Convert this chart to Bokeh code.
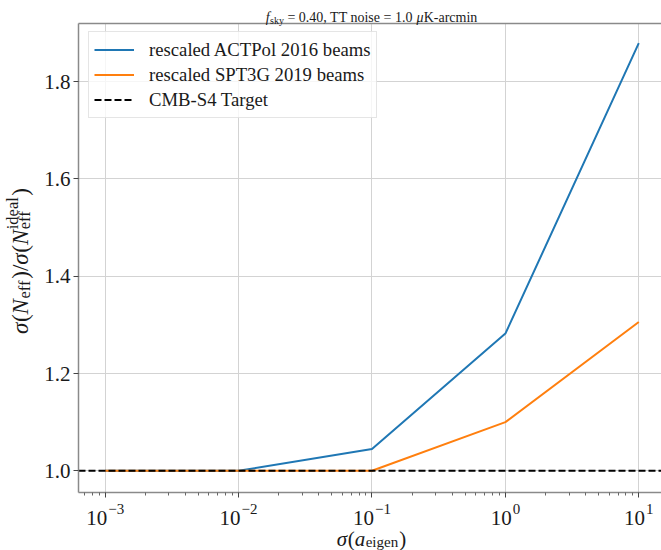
import math
from bokeh.plotting import figure
from bokeh.models import (Range1d, FixedTicker, Label, Legend, LegendItem, LogAxis,
                          CustomJSTickFormatter)
from bokeh.embed import file_html
from bokeh.resources import INLINE

# ---------------- data ----------------
sigma_a = [1e-3, 1e-2, 1e-1, 1e0, 1e1]
actpol_2016 = [1.0, 1.0, 1.045, 1.282, 1.879]
spt3g_2019 = [1.0, 1.0, 1.0, 1.100, 1.306]
cmb_s4_target = 1.0
series_names = ["rescaled ACTPol 2016 beams", "rescaled SPT3G 2019 beams", "CMB-S4 Target"]

x_ticks = [1e-3, 1e-2, 1e-1, 1e0, 1e1]
x_tick_base = "10"
x_tick_exponents = ["\u22123", "\u22122", "\u22121", "0", "1"]
y_ticks = [1.0, 1.2, 1.4, 1.6, 1.8]
y_tick_labels = ["1.0", "1.2", "1.4", "1.6", "1.8"]

# ---------------- layout (canvas pixels, origin top-left) ----------------
W, H = 661, 550
AX_L, AX_T, AX_B = 78, 23, 492          # axes box edges (right edge lies beyond canvas)
PX_PER_DECADE = 133.4
PX_PER_UNIT = 486.5
x_lo_exp = -3.2                           # log10 of x at the left spine
y_lo = 0.9554                             # y at the bottom spine
x_lo = 10 ** x_lo_exp
x_hi = 10 ** (x_lo_exp + (W - AX_L) / PX_PER_DECADE)
y_hi = y_lo + (AX_B - AX_T) / PX_PER_UNIT

FONT = "Liberation Serif"
TXT = "#1a1a1a"
SPINE = "#8a8a8a"
GRID = "#d3d3d3"

p = figure(width=W, height=H, x_axis_type="log", title=None,
           x_range=Range1d(10 ** (x_lo_exp - AX_L / PX_PER_DECADE), x_hi),
           y_range=Range1d(y_lo - (H - AX_B) / PX_PER_UNIT, y_lo + AX_B / PX_PER_UNIT),
           output_backend="svg", toolbar_location=None,
           min_border_left=0, min_border_right=0, min_border_top=0, min_border_bottom=0)
p.outline_line_color = None
p.background_fill_color = "white"
p.border_fill_color = "white"

minor = [k * 10.0 ** e for e in range(-4, 2) for k in range(2, 10)
         if x_lo <= k * 10.0 ** e <= x_hi]
xax = p.xaxis[0]
yax = p.yaxis[0]
xax.ticker = FixedTicker(ticks=x_ticks, minor_ticks=minor)
xax.formatter = CustomJSTickFormatter(code="return ''")
xax.fixed_location = y_lo
xax.bounds = (x_lo, x_hi)
yax.ticker = FixedTicker(ticks=y_ticks, minor_ticks=[])
yax.major_label_overrides = dict(zip(y_ticks, y_tick_labels))
yax.fixed_location = x_lo
yax.bounds = (y_lo, y_hi)

for ax in (xax, yax):
    ax.axis_line_color = SPINE
    ax.axis_line_width = 1.5
    ax.major_tick_in = 0
    ax.major_tick_out = 5
    ax.minor_tick_in = 0
    ax.minor_tick_out = 3
    ax.major_tick_line_color = "#444444"
    ax.minor_tick_line_color = "#666666"
    ax.major_tick_line_width = 1
yax.major_label_text_font = FONT
yax.major_label_text_font_size = "21px"
yax.major_label_text_color = TXT
yax.major_label_standoff = 3

# top spine as an axis with no ticks
top = LogAxis(fixed_location=y_hi, bounds=(x_lo, x_hi), ticker=FixedTicker(ticks=[]),
              formatter=CustomJSTickFormatter(code="return ''"),
              axis_line_color=SPINE, axis_line_width=1.5,
              major_tick_out=0, major_tick_in=0, minor_tick_out=0, minor_tick_in=0)
p.add_layout(top, "above")

p.xgrid.grid_line_color = GRID
p.ygrid.grid_line_color = GRID
p.xgrid.grid_line_width = 1
p.ygrid.grid_line_width = 1
p.xgrid.cross_bounds = (y_lo, y_hi)
p.ygrid.cross_bounds = (x_lo, x_hi)

# ---------------- data lines ----------------
r1 = p.line(sigma_a, actpol_2016, line_color="#1f77b4", line_width=2)
r2 = p.line(sigma_a, spt3g_2019, line_color="#ff7f0e", line_width=2)
r3 = p.line([x_lo, x_hi], [cmb_s4_target, cmb_s4_target], line_color="black",
            line_width=2, line_dash="7 3")

legend = Legend(items=[LegendItem(label=series_names[0], renderers=[r1]),
                       LegendItem(label=series_names[1], renderers=[r2]),
                       LegendItem(label=series_names[2], renderers=[r3])],
                location=(88, H - 118), margin=0, padding=5, spacing=0,
                glyph_width=40, glyph_height=25, label_height=25, label_standoff=15,
                label_text_font=FONT, label_text_font_size="18.7px", label_text_color=TXT,
                border_line_color="#cccccc", border_line_width=1,
                background_fill_color="white", background_fill_alpha=0.8)
p.add_layout(legend)

# ---------------- composed math-like texts ----------------
ROMAN = {' ': .25, '(': .333, ')': .333, ',': .25, '-': .333, '.': .25, '/': .278,
         '=': .564, '\u2212': .564, 'A': .722, 'B': .667, 'C': .667, 'K': .722,
         'M': .889, 'N': .722, 'P': .556, 'S': .556, 'T': .611, 'a': .444, 'b': .5,
         'c': .444, 'd': .5, 'e': .444, 'f': .333, 'g': .5, 'i': .278, 'k': .5,
         'l': .278, 'm': .778, 'n': .5, 'o': .5, 'r': .333, 's': .389, 't': .278, 'y': .5}
ITALIC = {'f': .278, 'N': .667, 'a': .5, '\u03c3': .52, '\u03bc': .52}


def tw(s, size, italic=False):
    tab = ITALIC if italic else ROMAN
    return sum(tab.get(c, ROMAN.get(c, .5)) for c in s) * size


def adv_of(piece):
    t, size, it, shift, adv, gap = piece
    return (tw(t, size, it) + gap) if adv else 0.0


def run_width(pieces):
    return sum(adv_of(pc) for pc in pieces)


def place(pieces, x0, y0, vertical=False):
    """x0, y0 in canvas pixels measured from the top-left."""
    pos = 0.0
    for pc in pieces:
        t, size, it, shift, adv, gap = pc
        lead = tw(t[:len(t) - len(t.lstrip(' '))], size, it)
        s = pos + lead
        if vertical:
            x, y = x0 + shift, y0 - s
        else:
            x, y = x0 + s, y0 + shift
        p.add_layout(Label(x=x, y=H - y, x_units="screen", y_units="screen", text=t.strip(' '),
                           angle=math.pi / 2 if vertical else 0,
                           text_font=FONT, text_font_size=f"{size}px",
                           text_font_style="italic" if it else "normal",
                           text_color=TXT, text_align="left", text_baseline="alphabetic"))
        pos += adv_of(pc)


RM, IT = False, True
# (text, size, italic, downward shift, advances, extra gap)
title_pieces = [("f", 14, IT, 0, True, 0.5), ("sky", 10, RM, 3, True, 0),
                (" = 0.40, TT noise = 1.0 ", 14, RM, 0, True, 0), ("\u03bc", 14, IT, 0, True, 0),
                ("K-arcmin", 14, RM, 0, True, 0)]
xlabel_pieces = [("\u03c3", 21, IT, 0, True, 0), ("(", 21, RM, 0, True, 0),
                 ("a", 21, IT, 0, True, 0.5), ("eigen", 15, RM, 3.5, True, 1),
                 (")", 21, RM, 0, True, 0)]
ylabel_pieces = [("\u03c3", 23, IT, 0, True, 0), ("(", 23, RM, 0, True, 0),
                 ("N", 23, IT, 0, True, 0.5), ("eff", 16.5, RM, 4, True, 1.5),
                 (")", 23, RM, 0, True, 0), ("/", 23, RM, 0, True, 0),
                 ("\u03c3", 23, IT, 0, True, 0), ("(", 23, RM, 0, True, 0),
                 ("N", 23, IT, 0, True, 0.5), ("eff", 16.5, RM, 4, False, 0),
                 ("ideal", 16.5, RM, -8, True, 1.5), (")", 23, RM, 0, True, 0)]

cx = 371
cy = (AX_T + AX_B) / 2
place(title_pieces, cx - run_width(title_pieces) / 2, 16.7)
place(xlabel_pieces, cx - run_width(xlabel_pieces) / 2, 538)
place(ylabel_pieces, 20, cy + run_width(ylabel_pieces) / 2 + 3, vertical=True)

# x tick labels: "10" with a raised exponent
for tick, ex in zip(x_ticks, x_tick_exponents):
    bw = tw(x_tick_base, 21)
    ew = tw(ex, 15)
    left = -(bw + 1 + ew) / 2
    p.add_layout(Label(x=tick, y=H - 517, x_units="data", y_units="screen", text=x_tick_base,
                       x_offset=left, text_font=FONT, text_font_size="21px", text_color=TXT,
                       text_align="left", text_baseline="alphabetic"))
    p.add_layout(Label(x=tick, y=H - 508, x_units="data", y_units="screen", text=ex,
                       x_offset=left + bw + 1, text_font=FONT, text_font_size="15px",
                       text_color=TXT, text_align="left", text_baseline="alphabetic"))

open("out.html", "w").write(file_html(p, INLINE))
